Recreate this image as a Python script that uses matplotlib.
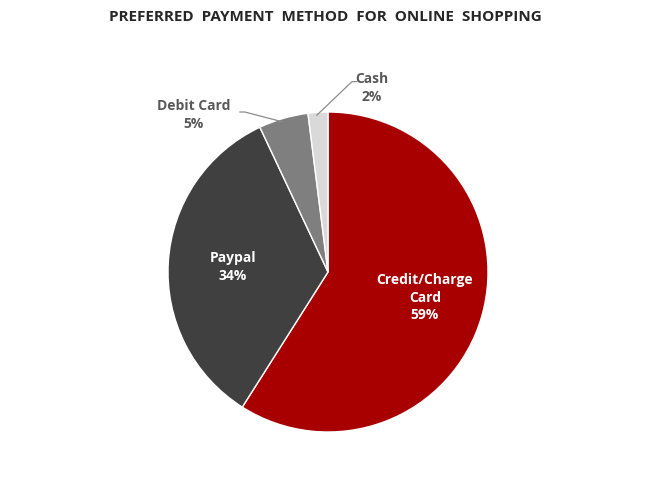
import matplotlib
matplotlib.use("Agg")
import matplotlib.pyplot as plt

# data
methods = ["Credit/Charge\nCard", "Paypal", "Debit Card", "Cash"]
shares = [59, 34, 5, 2]
colors = ["#A80000", "#404040", "#7F7F7F", "#D9D9D9"]

plt.rcParams["font.family"] = ["Open Sans", "DejaVu Sans"]

fig = plt.figure(figsize=(6.5, 4.83), dpi=100)
fig.text(0.5, 1 - 17 / 483, "PREFERRED  PAYMENT  METHOD  FOR  ONLINE  SHOPPING",
         ha="center", va="center", fontsize=11, fontweight="bold", color="#262626")

# pie axes: center (328, 272) px, radius 160 px
ax = fig.add_axes([(328 - 160) / 650, (483 - 272 - 160) / 483, 320 / 650, 320 / 483])
wedges, _ = ax.pie(shares, colors=colors, startangle=90, counterclock=False,
                   radius=1, wedgeprops=dict(edgecolor="white", linewidth=1.0))
ax.set_xlim(-1, 1)
ax.set_ylim(-1, 1)
ax.set_aspect("equal")
ax.axis("off")

lbl = dict(ha="center", va="center", fontsize=10, fontweight="bold", linespacing=1.35)
ax.text(0.606, -0.16, f"{methods[0]}\n{shares[0]}%", color="white", **lbl)
ax.text(-0.594, 0.03, f"{methods[1]}\n{shares[1]}%", color="white", **lbl)
ax.text(-0.84, 0.98, f"{methods[2]}\n{shares[2]}%", color="#595959", clip_on=False, **lbl)
ax.text(0.275, 1.15, f"{methods[3]}\n{shares[3]}%", color="#595959", clip_on=False, **lbl)

# leader lines
ax.plot([-0.55, -0.52, -0.29], [1.0, 1.0, 0.94], color="#8C8C8C", lw=0.9, clip_on=False)
ax.plot([0.18, 0.15, -0.07], [1.19, 1.19, 0.98], color="#8C8C8C", lw=0.9, clip_on=False)

fig.savefig("out.png", dpi=100, facecolor="white")
